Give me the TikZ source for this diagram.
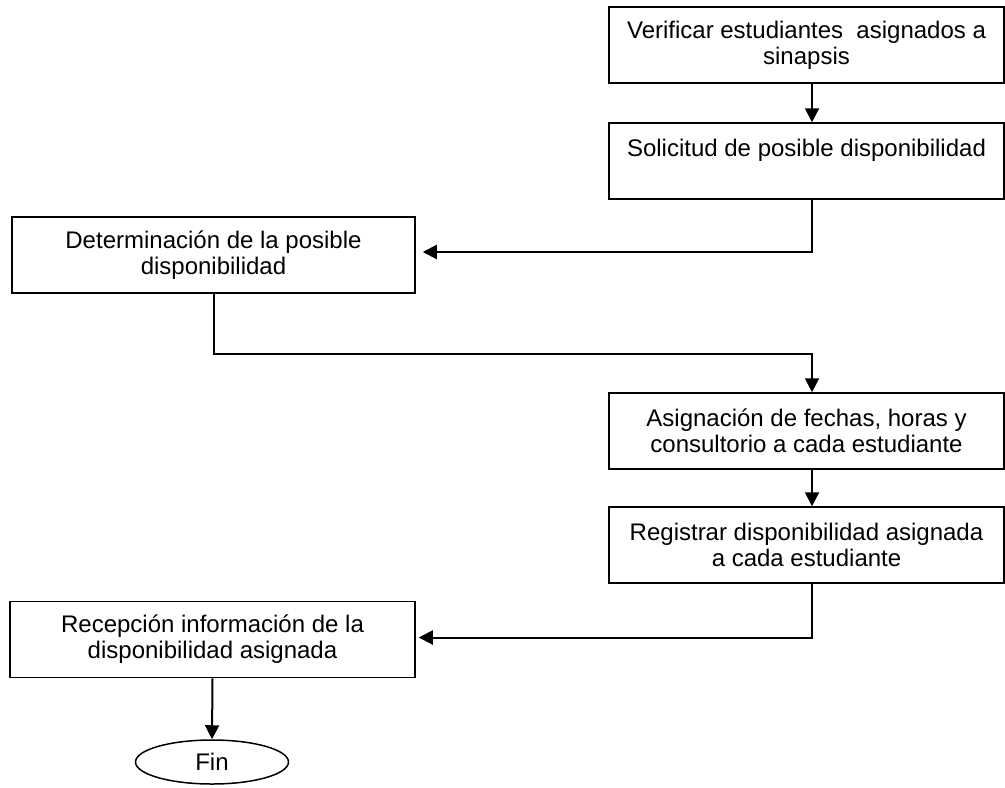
\documentclass[tikz,border=0pt]{standalone}
\usepackage{fontspec}
\setmainfont{Liberation Sans}
\usetikzlibrary{arrows.meta,shapes.geometric}

\begin{document}
\begin{tikzpicture}
	[x=0.5pt,y=-0.5pt,
	caja/.style={rectangle,draw,line width=0.75pt,align=center,inner sep=0pt,minimum width=197.5pt,minimum height=38pt,font=\fontsize{12}{13}\selectfont},
	terminal/.style={ellipse,draw,line width=0.75pt,inner sep=0pt,minimum width=76.5pt,minimum height=22pt,font=\fontsize{12}{13}\selectfont},
	flecha/.style={draw,line width=1pt,-{Triangle[length=7pt,width=7pt]}}]
	\useasboundingbox (0,0) rectangle (1005,787);
	\coordinate (col) at (812,0);
	\node[caja,name=verificar] at (806.5,45) {Verificar estudiantes~ asignados a\\sinapsis};
	\node[caja,name=solicitud] at (806.5,161) {Solicitud de posible disponibilidad\\~};
	\node[caja,name=determinacion,minimum width=201.5pt] at (213.5,255) {Determinación de la posible\\disponibilidad};
	\node[caja,name=asignacion] at (806.5,431) {Asignación de fechas, horas y\\consultorio a cada estudiante};
	\node[caja,name=registrar] at (806.5,545) {Registrar disponibilidad asignada\\a cada estudiante};
	\node[caja,name=recepcion,minimum width=202.5pt] at (212.5,639.5) {Recepción información de la\\disponibilidad asignada};
	\node[terminal,name=fin] at (212,762) {Fin};
	\draw[flecha] (verificar.south -| col) -- (solicitud.north -| col);
	\draw[flecha] (solicitud.south -| col) |- ([xshift=3.5pt,yshift=1.5pt]determinacion.east);
	\draw[flecha] (determinacion.south) -- ++(0,60) -| (asignacion.north -| col);
	\draw[flecha] (asignacion.south -| col) -- (registrar.north -| col);
	\draw[flecha] (registrar.south -| col) |- ([xshift=1.5pt,yshift=1pt]recepcion.east);
	\draw[flecha] (recepcion.south) -- (fin.north);
\end{tikzpicture}
\end{document}
